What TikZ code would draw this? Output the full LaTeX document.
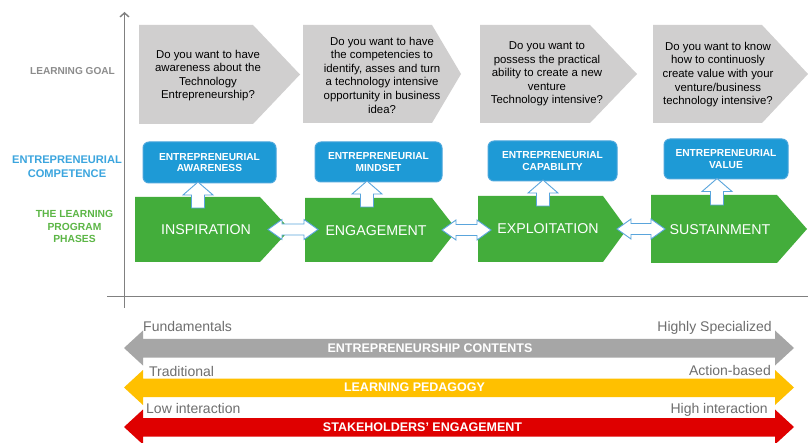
\documentclass[tikz,border=0pt]{standalone}
\usepackage{fontspec}
\setmainfont{Liberation Sans}
\usetikzlibrary{arrows.meta}
\definecolor{goalgray}{HTML}{D0CFCF}
\definecolor{phasegreen}{HTML}{43AD3B}
\definecolor{compblue}{HTML}{1E9AD6}
\definecolor{compborder}{HTML}{4AA6DC}
\definecolor{arrowblue}{HTML}{5AA5DC}
\definecolor{axisgray}{HTML}{808080}
\definecolor{lblgray}{HTML}{8C8C8C}
\definecolor{lblblue}{HTML}{3BA5DE}
\definecolor{lblgreen}{HTML}{5CB646}
\definecolor{bandgray}{HTML}{A6A6A6}
\definecolor{bandyellow}{HTML}{FFC000}
\definecolor{bandred}{HTML}{DF0000}
\definecolor{textgray}{HTML}{6E6E6E}
\newcommand\upblock[3]{%
  \draw[blockarrow] (#1-6.5,#2) -- (#1-6.5,#3+13) -- (#1-15,#3+13) -- (#1,#3)
    -- (#1+15,#3+13) -- (#1+6.5,#3+13) -- (#1+6.5,#2) -- cycle;}
\newcommand\twoblock[3]{%
  \draw[blockarrow] (#1,#3) -- (#1+14,#3-10) -- (#1+14,#3-5.5) -- (#2-14,#3-5.5)
    -- (#2-14,#3-10) -- (#2,#3) -- (#2-14,#3+10) -- (#2-14,#3+5.5)
    -- (#1+14,#3+5.5) -- (#1+14,#3+10) -- cycle;}
\newcommand\bandarrow[2]{%
  \fill[#1] (124,#2) -- (143,#2-17.5) -- (143,#2-9) -- (775,#2-9) -- (775,#2-17.5)
    -- (794,#2) -- (775,#2+17.5) -- (775,#2+9.5) -- (143,#2+9.5) -- (143,#2+17.5) -- cycle;}
\begin{document}
\begin{tikzpicture}[x=1pt,y=-1pt,
  axisline/.style={draw=axisgray, line width=1.4pt},
  goaltext/.style={align=center, inner sep=0pt, text=black, font=\fontsize{11.4}{13.6}\selectfont},
  compbox/.style={draw=compborder, line width=1pt, fill=compblue, rounded corners=6pt,
    align=center, text=white, inner sep=0pt, font=\bfseries\fontsize{10.2}{11.5}\selectfont},
  phasetext/.style={text=white, inner sep=0pt, font=\fontsize{14.2}{16}\selectfont},
  blockarrow/.style={draw=arrowblue, fill=white, line width=0.9pt, line join=miter},
  sidelabel/.style={align=center, inner sep=0pt, font=\bfseries},
  bandlabel/.style={text=white, inner sep=0pt, font=\bfseries\fontsize{12.5}{14}\selectfont},
  endlabel/.style={text=textgray, inner sep=0pt, font=\fontsize{14}{16}\selectfont}]
\useasboundingbox (0,0) rectangle (808,443);
\fill[white] (0,0) rectangle (808,443);

% axes
\draw[axisline, -{Straight Barb[length=4pt,width=9pt]}] (124.5,308) -- (124.5,12);
\draw[axisline] (107,296.5) -- (808,296.5);

% side labels
\node[sidelabel, text=lblgray, font=\bfseries\fontsize{10.1}{12}\selectfont] (lg) at (72.5,71) {LEARNING GOAL};
\node[sidelabel, text=lblblue, font=\bfseries\fontsize{11.1}{14.4}\selectfont] (ec) at (67,166.5) {ENTREPRENEURIAL\\COMPETENCE};
\node[sidelabel, text=lblgreen, font=\bfseries\fontsize{10.3}{12.5}\selectfont] (lp) at (74.5,226.5) {THE LEARNING\\PROGRAM\\PHASES};

% learning goal pentagons
\fill[goalgray] (139,25) -- (253,25) -- (300,74.5) -- (253,124) -- (139,124) -- cycle;
\fill[goalgray] (303,25) -- (432,25) -- (461,74) -- (432,123) -- (303,123) -- cycle;
\fill[goalgray] (480,25) -- (590,25) -- (637,74) -- (590,123) -- (480,123) -- cycle;
\fill[goalgray] (653,25) -- (762,25) -- (808,74) -- (762,123) -- (653,123) -- cycle;
\node[goaltext] (q1) at (208,75.5) {Do you want to have\\awareness about the\\Technology\\Entrepreneurship?};
\node[goaltext] (q2) at (382,75) {Do you want to have\\the competencies to\\identify, asses and turn\\a technology intensive\\opportunity in business\\idea?};
\node[goaltext] (q3) at (547,74) {Do you want to\\possess the practical\\ability to create a new\\venture\\Technology intensive?};
\node[goaltext] (q4) at (718,74.5) {Do you want to know\\how to continuosly\\create value with your\\venture/business\\technology intensive?};

% phase pentagons
\fill[phasegreen] (135,197) -- (260,197) -- (290,229.5) -- (260,262) -- (135,262) -- cycle;
\fill[phasegreen] (305,198) -- (432,198) -- (457,230) -- (432,262) -- (305,262) -- cycle;
\fill[phasegreen] (478,196) -- (603,196) -- (627,229) -- (603,262) -- (478,262) -- cycle;
\fill[phasegreen] (651,195) -- (777,195) -- (807,229) -- (777,263) -- (651,263) -- cycle;
\node[phasetext] (p1) at (206,230) {INSPIRATION};
\node[phasetext] (p2) at (376,230.5) {ENGAGEMENT};
\node[phasetext] (p3) at (548,229) {EXPLOITATION};
\node[phasetext] (p4) at (720,229.5) {SUSTAINMENT};

% competence boxes
\node[compbox, minimum width=133pt, minimum height=41pt] (c1) at (209.5,162.5) {ENTREPRENEURIAL\\AWARENESS};
\node[compbox, minimum width=127pt, minimum height=40pt] (c2) at (378.5,162) {ENTREPRENEURIAL\\MINDSET};
\node[compbox, minimum width=129pt, minimum height=40pt] (c3) at (552.5,161) {ENTREPRENEURIAL\\CAPABILITY};
\node[compbox, minimum width=124pt, minimum height=40pt] (c4) at (726,159) {ENTREPRENEURIAL\\VALUE};

% up arrows
\upblock{198}{208}{182}
\upblock{367}{207}{181}
\upblock{543}{206}{180}
\upblock{717}{205}{178.5}

% double arrows
\twoblock{268}{318}{229.5}
\twoblock{442}{491}{230}
\twoblock{617}{665}{229}

% bottom bands
\bandarrow{bandgray}{348}
\bandarrow{bandyellow}{387.5}
\bandarrow{bandred}{427}
\node[bandlabel] (b1) at (430,348) {ENTREPRENEURSHIP CONTENTS};
\node[bandlabel] (b2) at (414.5,387.5) {LEARNING PEDAGOGY};
\node[bandlabel] (b3) at (422.5,427) {STAKEHOLDERS’ ENGAGEMENT};
\node[endlabel, anchor=base west] (e1) at (143,331) {Fundamentals};
\node[endlabel, anchor=base east] (e2) at (772,331.5) {Highly Specialized};
\node[endlabel, anchor=base west] (e3) at (149,376) {Traditional};
\node[endlabel, anchor=base east] (e4) at (771,375.5) {Action-based};
\node[endlabel, anchor=base west] (e5) at (146,413) {Low interaction};
\node[endlabel, anchor=base east] (e6) at (768,413) {High interaction};
\end{tikzpicture}
\end{document}
